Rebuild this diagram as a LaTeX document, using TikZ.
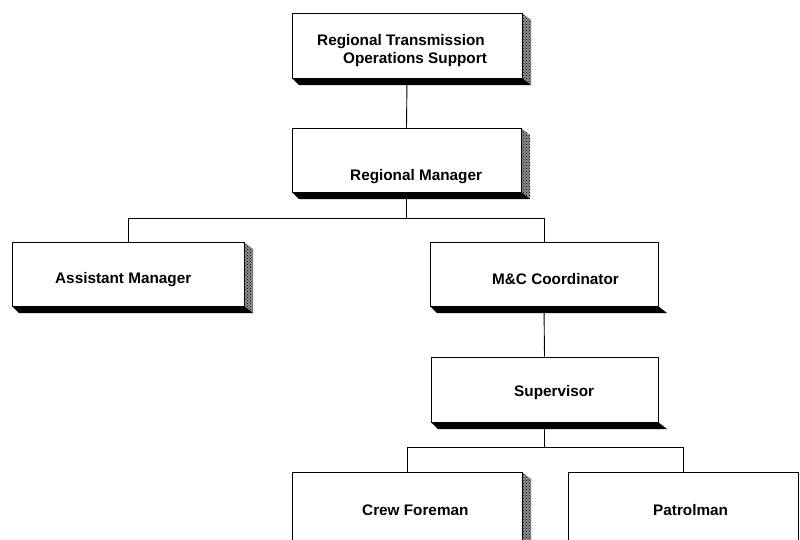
\documentclass[tikz,border=0pt]{standalone}
\usepackage{fontspec}
\setmainfont{Liberation Sans}
\usetikzlibrary{patterns}
\begin{document}
\begin{tikzpicture}[x=1pt,y=-1pt,
  box/.style={draw=black,line width=1pt,fill=white,rectangle,inner sep=0pt},
  lbl/.style={anchor=west,inner sep=0pt,font=\fontsize{15.3}{18}\selectfont\bfseries},
  link/.style={draw=black,line width=0.9pt},
  sidesh/.style={pattern=crosshatch dots,pattern color=black},
  sidetone/.style={fill=black!45},
  basesh/.style={fill=black}]
\useasboundingbox (0,0) rectangle (800,539);
\clip (0,0) rectangle (800,539);
\fill[white] (0,0) rectangle (800,539);

% drop shadows drawn first, boxes on top
\newcommand{\orgshadow}[5]{% x1 y1 x2 y2 (box corners), #5 = draw side strip
  \ifnum#5=1
  \fill[sidetone] (#3,#2) -- (#3+9,#2+7) -- (#3+9,#4+7) -- (#3,#4) -- cycle;
  \fill[sidesh] (#3,#2) -- (#3+9,#2+7) -- (#3+9,#4+7) -- (#3,#4) -- cycle;
  \fi
  \fill[basesh] (#1,#4) -- (#1+7,#4+7) -- (#3+9,#4+7) -- (#3,#4) -- cycle;}
\orgshadow{292}{13}{522}{78}{1}
\orgshadow{292}{128}{521}{192}{1}
\orgshadow{12}{242}{244}{306}{1}
\orgshadow{430}{242}{658}{306}{0}
\orgshadow{431}{357}{658}{422}{0}
\orgshadow{292}{472}{522}{560}{1}

% boxes
\node[box,minimum width=230pt,minimum height=65pt] (ops) at (407,45.5) {};
\node[box,minimum width=229pt,minimum height=64pt] (rm) at (406.5,160) {};
\node[box,minimum width=232pt,minimum height=64pt] (am) at (128,274) {};
\node[box,minimum width=228pt,minimum height=64pt] (mc) at (544,274) {};
\node[box,minimum width=227pt,minimum height=65pt] (sup) at (544.5,389.5) {};
\node[box,minimum width=230pt,minimum height=88pt] (cf) at (407,516) {};
\node[box,minimum width=230pt,minimum height=88pt] (pm) at (683,516) {};

% labels
\node[lbl,align=left] (tops) at (317,51) {Regional Transmission\\\hspace*{26pt}Operations Support};
\node[lbl] (trm) at (350,177) {Regional Manager};
\node[lbl] (tam) at (55,280) {Assistant Manager};
\node[lbl] (tmc) at (492,279) {M\&C Coordinator};
\node[lbl] (tsup) at (514,393) {Supervisor};
\node[lbl] (tcf) at (362,510) {Crew Foreman};
\node[lbl] (tpm) at (653,510) {Patrolman};

% reporting lines
\draw[link] (ops.south) -- (rm.north);
\draw[link] (rm.south) -- ++(0,26) coordinate (j1);
\draw[link] (am.north) |- (j1) -| (mc.north);
\draw[link] (mc.south) -- (sup.north);
\draw[link] (sup.south) -- ++(0,25) coordinate (j2);
\draw[link] (cf.north) |- (j2) -| (pm.north);
\end{tikzpicture}
\end{document}
